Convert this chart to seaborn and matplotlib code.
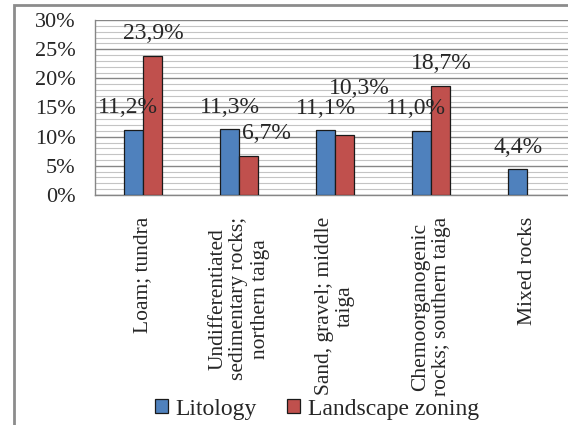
import numpy as np
import pandas as pd
import matplotlib
matplotlib.use("Agg")
import matplotlib.pyplot as plt
from matplotlib.patches import Rectangle
from matplotlib.ticker import MultipleLocator, FuncFormatter
import seaborn as sns

categories = [
    "Loam; tundra",
    "Undifferentiated\nsedimentary rocks;\nnorthern taiga",
    "Sand, gravel; middle\ntaiga",
    "Chemoorganogenic\nrocks; southern taiga",
    "Mixed rocks",
]
litology = [11.2, 11.3, 11.1, 11.0, 4.4]
landscape = [23.9, 6.7, 10.3, 18.7, np.nan]
series_names = ["Litology", "Landscape zoning"]
colors = ["#4F81BD", "#C0504D"]

df = pd.DataFrame({
    "category": categories * 2,
    "value": litology + landscape,
    "series": [series_names[0]] * len(categories) + [series_names[1]] * len(categories),
})

sns.set_style("white")
plt.rcParams["font.family"] = ["Liberation Serif", "DejaVu Serif"]

fig = plt.figure(figsize=(5.68, 4.25), dpi=100)
W, H = 568, 425
ax = fig.add_axes([95 / W, 1 - 195 / H, (575 - 95) / W, (195 - 20) / H])

sns.barplot(data=df, x="category", y="value", hue="series", order=categories,
            hue_order=series_names, palette=colors, width=0.4, saturation=1,
            edgecolor="#1a1a1a", linewidth=0.9, ax=ax, legend=True, zorder=3)

ax.set_xlim(-0.5, 4.5)
ax.set_ylim(0, 30)
ax.yaxis.set_major_locator(MultipleLocator(5))
ax.yaxis.set_minor_locator(MultipleLocator(1))
ax.yaxis.set_major_formatter(FuncFormatter(lambda v, p: f"{v:.0f}%"))
ax.grid(True, which="major", axis="y", color="#868686", lw=1.0, zorder=0)
ax.grid(True, which="minor", axis="y", color="#c4c4c4", lw=0.8, zorder=0)
ax.set_axisbelow(True)
ax.tick_params(axis="y", which="major", length=7, color="#868686", labelsize=16, pad=7)
ax.tick_params(axis="y", which="minor", length=0)
ax.tick_params(axis="x", length=0, labelsize=15.5, pad=16)
for lab in ax.get_xticklabels():
    lab.set_rotation(90)
    lab.set_ha("center")
    lab.set_va("top")
    lab.set_multialignment("center")
    lab.set_linespacing(1.15)
ax.set_xlabel("")
ax.set_ylabel("")
for s in ["top", "right"]:
    ax.spines[s].set_visible(False)
for s in ["left", "bottom"]:
    ax.spines[s].set_color("#868686")
    ax.spines[s].set_linewidth(1.0)

# data labels (with Excel-like nudges where labels collide)
nudges = {(0, 0): (-5, 0), (0, 3): (-5, 0), (1, 1): (18, 0), (1, 2): (15, 24)}
for si, cont in enumerate(ax.containers):
    vals = [litology, landscape][si]
    for ci, bar in enumerate(cont):
        v = vals[ci]
        if np.isnan(v):
            continue
        dx, dy = nudges.get((si, ci), (1, 0))
        ax.annotate(f"{v:.1f}%".replace(".", ","),
                    (bar.get_x() + bar.get_width() / 2, bar.get_height()),
                    xytext=(dx, 22 + dy), textcoords="offset pixels",
                    ha="center", va="center", fontsize=17, zorder=5)

leg = ax.legend(loc="center", bbox_to_anchor=(317 / W, 1 - 409 / H),
                bbox_transform=fig.transFigure, ncol=2, frameon=False,
                fontsize=17, handlelength=0.55, handleheight=0.55,
                handletextpad=0.3, columnspacing=1.3)
for h in leg.legend_handles:
    h.set_edgecolor("#1a1a1a")
    h.set_linewidth(0.9)

fig.patches.append(Rectangle((14 / W, -0.1), 1.1, 1 - 5 / H + 0.1,
                             transform=fig.transFigure, fill=False,
                             edgecolor="#8c8c8c", lw=2))

fig.savefig("out.png", dpi=100)
